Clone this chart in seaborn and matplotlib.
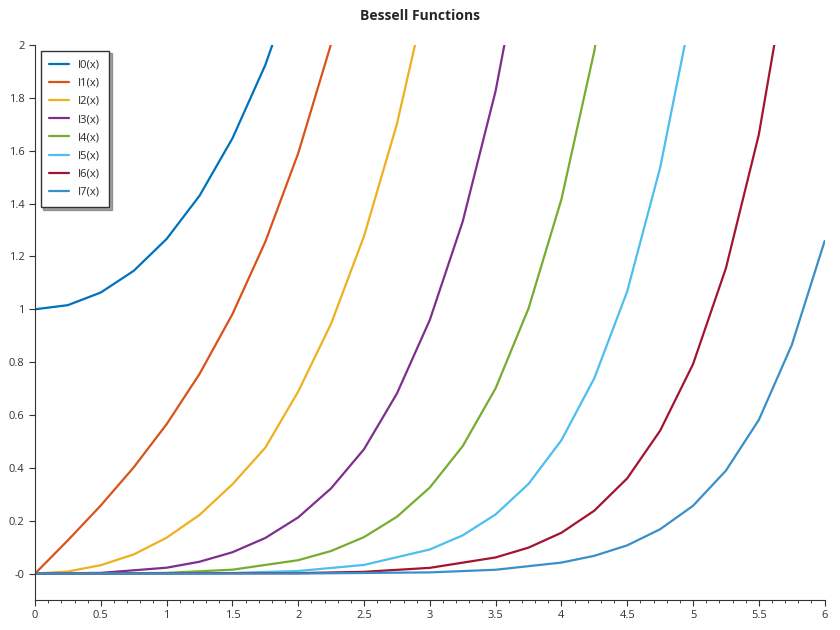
import matplotlib
matplotlib.use("Agg")
import matplotlib.pyplot as plt
from matplotlib.ticker import MultipleLocator, FixedLocator
import seaborn as sns

# values
x_i0 = [0, 0.25, 0.5, 0.75, 1.0, 1.25, 1.5, 1.75, 2.0]
i0 = [1.0, 1.0157, 1.0635, 1.1456, 1.2661, 1.4296, 1.6467, 1.9245, 2.2796]

x_i1 = [0, 0.25, 0.5, 0.75, 1.0, 1.25, 1.5, 1.75, 2.0, 2.25, 2.5]
i1 = [0.0, 0.126, 0.2579, 0.402, 0.5652, 0.7553, 0.9817, 1.2555, 1.5906, 2.0046, 2.5167]

x_i2 = [0, 0.25, 0.5, 0.75, 1.0, 1.25, 1.5, 1.75, 2.0, 2.25, 2.5, 2.75, 3.0]
i2 = [0.0, 0.0079, 0.0319, 0.0725, 0.1357, 0.222, 0.3378, 0.4765, 0.6889,
      0.9458, 1.2765, 1.701, 2.2452]

x_i3 = [0, 0.5, 1.0, 1.25, 1.5, 1.75, 2.0, 2.25, 2.5, 2.75, 3.0, 3.25, 3.5, 3.75]
i3 = [0.0, 0.0027, 0.0222, 0.0448, 0.0807, 0.1348, 0.2127, 0.3226, 0.4706,
      0.6812, 0.9598, 1.3325, 1.8264, 2.48]

x_i4 = [0, 0.5, 1.0, 1.5, 2.0, 2.25, 2.5, 2.75, 3.0, 3.25, 3.5, 3.75, 4.0, 4.25, 4.5]
i4 = [0.0, 0.0002, 0.0027, 0.0147, 0.0507, 0.0855, 0.138, 0.215, 0.3257,
      0.4823, 0.701, 1.0031, 1.4163, 1.9774, 2.7349]

x_i5 = [0, 1.0, 1.5, 2.0, 2.5, 3.0, 3.25, 3.5, 3.75, 4.0, 4.25, 4.5, 4.75, 5.0]
i5 = [0.0, 0.0003, 0.0022, 0.0098, 0.0328, 0.0912, 0.1447, 0.2238, 0.3393,
      0.5047, 0.7393, 1.068, 1.5354, 2.1574]

x_i6 = [0, 2.0, 2.5, 3.0, 3.5, 3.75, 4.0, 4.25, 4.5, 4.75, 5.0, 5.25, 5.5, 5.75]
i6 = [0.0, 0.0016, 0.0066, 0.0217, 0.0611, 0.0982, 0.1545, 0.2381, 0.3604,
      0.5407, 0.7923, 1.1556, 1.661, 2.384]

x_i7 = [0, 2.0, 3.0, 3.5, 4.0, 4.25, 4.5, 4.75, 5.0, 5.25, 5.5, 5.75, 6.0]
i7 = [0.0, 0.0002, 0.0045, 0.0145, 0.0416, 0.0672, 0.1068, 0.1678, 0.2565,
      0.3896, 0.5814, 0.8645, 1.258]

series = [
    ("I0(x)", x_i0, i0, "#0072BD"),
    ("I1(x)", x_i1, i1, "#D95319"),
    ("I2(x)", x_i2, i2, "#EDB120"),
    ("I3(x)", x_i3, i3, "#7E2F8E"),
    ("I4(x)", x_i4, i4, "#77AC30"),
    ("I5(x)", x_i5, i5, "#4DBEEE"),
    ("I6(x)", x_i6, i6, "#A2142F"),
    ("I7(x)", x_i7, i7, "#3A8FC8"),
]

sns.set_style("white")
plt.rcParams["font.family"] = ["Open Sans", "DejaVu Sans"]

fig = plt.figure(figsize=(8.4, 6.3), dpi=100)
ax = fig.add_axes([0.0417, 0.0476, 0.940, 0.881])

for label, xs, ys, color in series:
    sns.lineplot(x=xs, y=ys, ax=ax, color=color, linewidth=1.6, label=label, sort=False)

ax.set_xlim(0, 6)
ax.set_ylim(-0.1, 2)
ax.xaxis.set_major_locator(MultipleLocator(0.5))
ax.xaxis.set_minor_locator(MultipleLocator(0.1))
ax.set_xticklabels([f"{v:g}" for v in ax.get_xticks()])
yt = [0, 0.2, 0.4, 0.6, 0.8, 1, 1.2, 1.4, 1.6, 1.8, 2]
ax.yaxis.set_major_locator(FixedLocator(yt))
ax.set_yticklabels(["-0"] + [f"{v:g}" for v in yt[1:]])
ax.tick_params(axis="both", labelsize=8, length=4, direction="out", colors="#333333")
ax.tick_params(axis="x", which="minor", length=2)
ax.tick_params(left=True, bottom=True, which="both")
for s in ["top", "right"]:
    ax.spines[s].set_visible(False)
for s in ["left", "bottom"]:
    ax.spines[s].set_color("#333333")
    ax.spines[s].set_linewidth(0.8)

fig.suptitle("Bessell Functions", fontsize=10, fontweight="bold", y=0.985)
leg = ax.legend(loc="upper left", fontsize=8, frameon=True, shadow=True,
                fancybox=False, borderpad=0.8, handlelength=1.8, labelspacing=0.65)
leg.get_frame().set_edgecolor("#333333")

fig.savefig("out.png", dpi=100)
plt.close()
